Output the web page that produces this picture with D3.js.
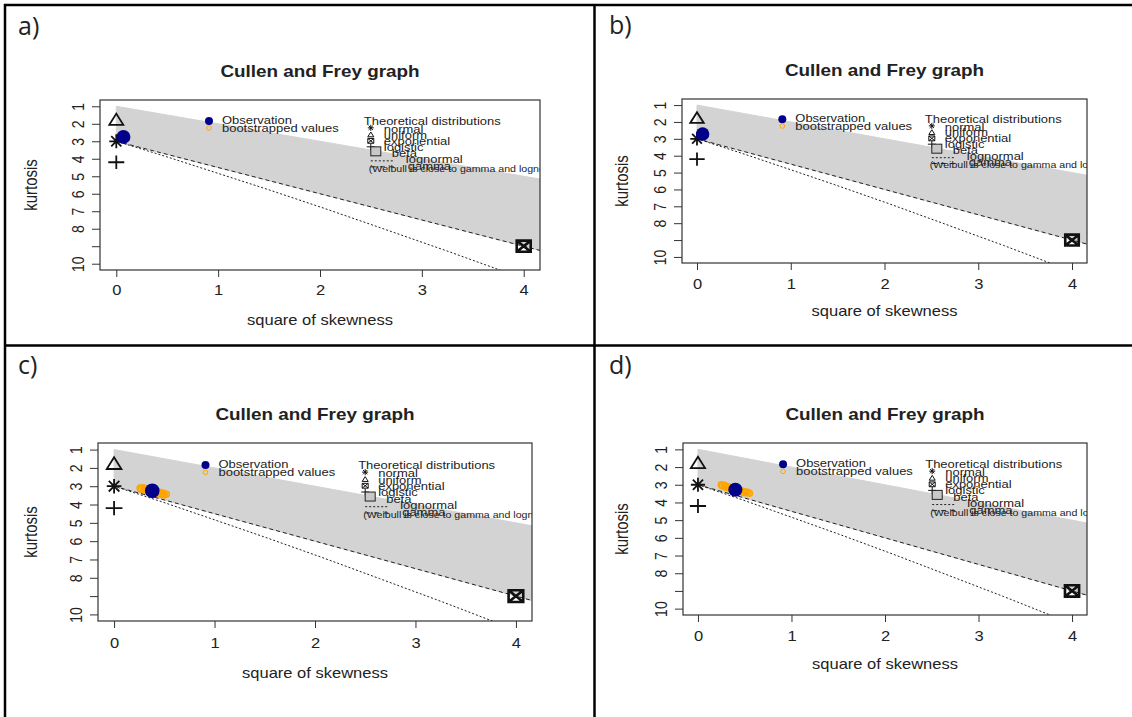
<!DOCTYPE html>
<html>
<head>
<meta charset="utf-8">
<script src="https://cdn.jsdelivr.net/npm/d3@7"></script>
<style>
  body { margin: 0; background: #fff; }
  text { font-family: "Liberation Sans", Arial, sans-serif; fill: #222; }
</style>
</head>
<body>
<div id="chart"></div>
<script>
var panelLabels = ["a)", "b)", "c)", "d)"];
var xTicks = [0, 1, 2, 3, 4];
var yTicks = [1, 2, 3, 4, 5, 6, 7, 8, 9, 10];
var yTickLabels = ["1", "2", "3", "4", "5", "6", "7", "8", "", "10"];

// observed (square of skewness, kurtosis), one per panel
var observed = [[0.07, 2.75], [0.06, 2.72], [0.38, 3.25], [0.40, 3.28]];

// bootstrapped values, one list per panel
var bootA = [[0.05, 2.72], [0.08, 2.78], [0.07, 2.70], [0.06, 2.80]];
var bootB = [[0.05, 2.70], [0.07, 2.75], [0.06, 2.68], [0.05, 2.78]];
var bootC = [[0.26, 3.10], [0.27, 3.16], [0.29, 3.08], [0.30, 3.18], [0.31, 3.13], [0.32, 3.22],
             [0.33, 3.15], [0.34, 3.26], [0.35, 3.19], [0.36, 3.29], [0.37, 3.21], [0.39, 3.27],
             [0.40, 3.33], [0.41, 3.24], [0.42, 3.36], [0.43, 3.30], [0.44, 3.40], [0.45, 3.33],
             [0.46, 3.42], [0.47, 3.36], [0.48, 3.45], [0.49, 3.39], [0.50, 3.47], [0.52, 3.44]];
var bootD = [[0.25, 3.00], [0.26, 3.06], [0.28, 3.03], [0.29, 3.11], [0.30, 3.08], [0.31, 3.15],
             [0.33, 3.13], [0.34, 3.20], [0.35, 3.17], [0.37, 3.24], [0.38, 3.21], [0.40, 3.30],
             [0.42, 3.27], [0.43, 3.34], [0.44, 3.31], [0.46, 3.39], [0.47, 3.36], [0.48, 3.42],
             [0.50, 3.40], [0.51, 3.45], [0.53, 3.43], [0.55, 3.48]];
var boots = [bootA, bootB, bootC, bootD];

// theoretical distributions drawn as points
var pointDists = ["normal", "uniform", "exponential", "logistic"];
var pointSkew2 = [0, 0, 4, 0];
var pointKurt = [3, 1.8, 9, 4.2];

// theoretical distributions drawn as lines / areas
var betaEdge = [[0, 1], [4.5, 5.5]];
var gammaLine = [[0, 3], [4.5, 9.75]];
var lognormalLine = [[0, 3], [0.47, 3.84], [0.96, 4.76], [1.49, 5.76], [2.05, 6.85],
                     [2.64, 8.04], [3.27, 9.32], [3.77, 10.37], [4.2, 11.3]];

var legendObs = ["Observation", "bootstrapped values"];
var legendTitle = "Theoretical distributions";
var legendDists = ["normal", "uniform", "exponential", "logistic", "beta", "lognormal", "gamma"];
var weibullNote = "(Weibull is close to gamma and lognormal)";

// where each plot sits on the page
var layout = [
  { x0: 100, x1: 540, y0: 100, y1: 270, lab: [18, 35], tk: 25, xl: 55, kx: 69 },
  { x0: 682, x1: 1087, y0: 99, y1: 263, lab: [609, 34], tk: 26, xl: 53, kx: 60 },
  { x0: 98, x1: 532, y0: 443, y1: 621, lab: [18, 374], tk: 27, xl: 57, kx: 67 },
  { x0: 683, x1: 1087, y0: 443, y1: 615, lab: [609, 374], tk: 26, xl: 54, kx: 61 }
];

// the pasted R pictures are stretched sideways
var SX = 1.18;

var svg = d3.select("#chart").append("svg")
  .attr("width", 1132)
  .attr("height", 717);

// table grid round the four plots
var grid = svg.append("g").attr("stroke", "#000").attr("stroke-width", 2.5);
grid.append("line").attr("x1", 4).attr("x2", 1132).attr("y1", 5).attr("y2", 5);
grid.append("line").attr("x1", 4).attr("x2", 1132).attr("y1", 345.5).attr("y2", 345.5);
grid.append("line").attr("x1", 5).attr("x2", 5).attr("y1", 4).attr("y2", 717);
grid.append("line").attr("x1", 594.5).attr("x2", 594.5).attr("y1", 4).attr("y2", 717);

// text placed at (x, y) and widened by SX
function wideText(parent, x, y, size, str) {
  return parent.append("text")
    .attr("transform", `translate(${x},${y}) scale(${SX},1)`)
    .attr("font-size", size)
    .text(str);
}

function markerPath(type, cx, cy, s) {
  var h = s / 2, d = h * 0.72;
  if (type == "normal") {
    return `M${cx - h},${cy}L${cx + h},${cy}M${cx},${cy - h}L${cx},${cy + h}` +
      `M${cx - d},${cy - d}L${cx + d},${cy + d}M${cx - d},${cy + d}L${cx + d},${cy - d}`;
  }
  if (type == "uniform") {
    return `M${cx},${cy - h * 0.95}L${cx + h},${cy + h * 0.65}L${cx - h},${cy + h * 0.65}Z`;
  }
  if (type == "exponential") {
    var v = h * 0.8;
    return `M${cx - h},${cy - v}L${cx + h},${cy - v}L${cx + h},${cy + v}L${cx - h},${cy + v}Z` +
      `M${cx - h},${cy - v}L${cx + h},${cy + v}M${cx - h},${cy + v}L${cx + h},${cy - v}`;
  }
  // logistic
  return `M${cx - h},${cy}L${cx + h},${cy}M${cx},${cy - h * 0.85}L${cx},${cy + h * 0.85}`;
}

function drawPanel(i) {
  var L = layout[i];
  var k = (L.y1 - L.y0) / 170;
  var g = svg.append("g");

  var x = d3.scaleLinear().domain([-0.16, 4.16]).range([L.x0, L.x1]);
  var y = d3.scaleLinear().domain([0.64, 10.36]).range([L.y0, L.y1]);
  var line = d3.line().x(d => x(d[0])).y(d => y(d[1]));

  g.append("clipPath").attr("id", "clip" + i)
    .append("rect")
    .attr("x", L.x0).attr("y", L.y0)
    .attr("width", L.x1 - L.x0).attr("height", L.y1 - L.y0);

  var plot = g.append("g").attr("clip-path", `url(#clip${i})`);

  // beta area between the lower limit and the gamma line
  var area = betaEdge.concat(gammaLine.slice().reverse());
  plot.append("path")
    .attr("d", line(area) + "Z")
    .attr("fill", "#d3d3d3")
    .attr("stroke", "#d3d3d3");

  plot.append("path")
    .attr("d", line(lognormalLine))
    .attr("fill", "none")
    .attr("stroke", "#222")
    .attr("stroke-width", 1)
    .attr("stroke-dasharray", "2,2");

  plot.append("path")
    .attr("d", line(gammaLine))
    .attr("fill", "none")
    .attr("stroke", "#222")
    .attr("stroke-width", 1)
    .attr("stroke-dasharray", "4,3");

  // theoretical points
  pointDists.forEach(function(name, j) {
    var s = name == "logistic" ? 16 : 14;
    plot.append("path")
      .attr("d", markerPath(name, x(pointSkew2[j]), y(pointKurt[j]), s * k))
      .attr("fill", "none")
      .attr("stroke", "#111")
      .attr("stroke-width", name == "exponential" ? 2.6 : 1.8);
  });

  // bootstrapped values then the observation
  plot.selectAll(".boot")
    .data(boots[i])
    .enter()
    .append("circle")
    .attr("class", "boot")
    .attr("cx", d => x(d[0]))
    .attr("cy", d => y(d[1]))
    .attr("r", 3)
    .attr("fill", "none")
    .attr("stroke", "#ffa500")
    .attr("stroke-width", 1.6);

  plot.append("circle")
    .attr("cx", x(observed[i][0]))
    .attr("cy", y(observed[i][1]))
    .attr("r", 7 * k)
    .attr("fill", "#00008b");

  // left legend
  var lx = x(0.91), ly = y(1.84);
  plot.append("circle").attr("cx", lx).attr("cy", ly).attr("r", 4).attr("fill", "#00008b");
  plot.append("circle").attr("cx", lx).attr("cy", ly + 7 * k).attr("r", 2.3)
    .attr("fill", "none").attr("stroke", "#ffa500").attr("stroke-width", 1);
  legendObs.forEach(function(t, j) {
    wideText(plot, lx + 13, ly + (3 + j * 8) * k, 11, t);
  });

  // right legend
  var rx = x(2.43), ry = y(2.06);
  wideText(plot, rx, ry, 11, legendTitle);
  var rowSym = [3, 10, 16, 22];
  var rowText = [8, 14, 20, 26, 32, 38, 45];
  var textDx = [20, 20, 20, 20, 28, 42, 44];
  pointDists.forEach(function(name, j) {
    plot.append("path")
      .attr("d", markerPath(name, rx + 7, ry + rowSym[j] * k, name == "logistic" ? 8 : 6))
      .attr("fill", "none")
      .attr("stroke", "#111")
      .attr("stroke-width", 1);
  });
  plot.append("rect")
    .attr("x", rx + 7).attr("y", ry + 22 * k)
    .attr("width", 10).attr("height", 9)
    .attr("fill", "#c8c8c8").attr("stroke", "#222").attr("stroke-width", 1);
  plot.append("line")
    .attr("x1", rx + 7).attr("x2", rx + 30)
    .attr("y1", ry + 36 * k).attr("y2", ry + 36 * k)
    .attr("stroke", "#222").attr("stroke-dasharray", "2,2");
  plot.append("line")
    .attr("x1", rx + 7).attr("x2", rx + 30)
    .attr("y1", ry + 42 * k).attr("y2", ry + 42 * k)
    .attr("stroke", "#222").attr("stroke-dasharray", "5,4");
  legendDists.forEach(function(t, j) {
    wideText(plot, rx + textDx[j], ry + rowText[j] * k, 11, t);
  });
  wideText(plot, rx + 5, ry + 47 * k, 9, weibullNote);

  // box
  g.append("rect")
    .attr("x", L.x0).attr("y", L.y0)
    .attr("width", L.x1 - L.x0).attr("height", L.y1 - L.y0)
    .attr("fill", "none")
    .attr("stroke", "#333")
    .attr("stroke-width", 1.2);

  // axes
  var xAxis = g.append("g")
    .attr("transform", `translate(0,${L.y1})`)
    .call(d3.axisBottom(x).tickValues(xTicks).tickSize(7).tickFormat(d3.format("d")));
  xAxis.select(".domain").remove();
  xAxis.selectAll("line").attr("stroke", "#333");
  xAxis.selectAll("text")
    .attr("y", null).attr("dy", null)
    .attr("transform", `translate(0,${L.tk}) scale(${SX},1)`)
    .attr("font-size", 14)
    .attr("font-family", "Liberation Sans, Arial, sans-serif")
    .attr("fill", "#222");

  var yAxis = g.append("g")
    .attr("transform", `translate(${L.x0},0)`)
    .call(d3.axisLeft(y).tickValues(yTicks).tickSize(8).tickFormat((d, j) => yTickLabels[j]));
  yAxis.select(".domain").remove();
  yAxis.selectAll("line").attr("stroke", "#333");
  yAxis.selectAll("text")
    .attr("x", 0)
    .attr("dy", "0.36em")
    .attr("transform", `translate(-22,0) scale(${SX},1) rotate(-90)`)
    .attr("text-anchor", "middle")
    .attr("font-size", 14)
    .attr("font-family", "Liberation Sans, Arial, sans-serif")
    .attr("fill", "#222");

  // titles
  var cx = (L.x0 + L.x1) / 2, cy = (L.y0 + L.y1) / 2;
  wideText(g, cx, L.y0 - 23, 16, "Cullen and Frey graph")
    .attr("text-anchor", "middle")
    .attr("font-weight", "bold");
  wideText(g, cx, L.y1 + L.xl, 14, "square of skewness")
    .attr("text-anchor", "middle");
  g.append("text")
    .attr("transform", `translate(${L.x0 - L.kx},${cy}) scale(${SX},1) rotate(-90)`)
    .attr("dy", "0.35em")
    .attr("text-anchor", "middle")
    .attr("font-size", 15)
    .text("kurtosis");

  // panel letter
  g.append("text")
    .attr("x", L.lab[0]).attr("y", L.lab[1])
    .attr("font-size", 25)
    .style("font-family", "'Open Sans', sans-serif")
    .text(panelLabels[i]);
}

d3.range(4).forEach(drawPanel);
</script>
</body>
</html>
